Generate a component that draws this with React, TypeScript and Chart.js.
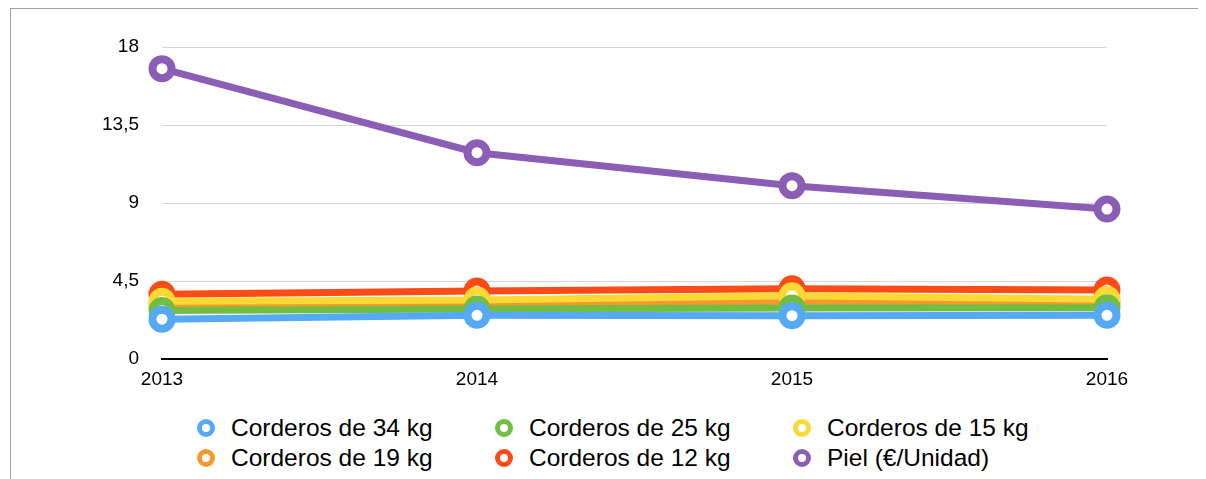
import React, { useEffect, useRef } from "react";
import { Chart, registerables } from "chart.js";

Chart.register(...registerables);

const years = ["2013", "2014", "2015", "2016"];
const corderos34 = [2.3, 2.52, 2.5, 2.52];
const corderos25 = [2.8, 2.88, 2.94, 2.96];
const corderos15 = [3.33, 3.4, 3.65, 3.45];
const corderos19 = [3.1, 3.12, 3.33, 3.2];
const corderos12 = [3.74, 3.92, 4.05, 3.98];
const piel = [16.75, 11.9, 10.0, 8.65];

const seriesNames = [
  "Corderos de 34 kg",
  "Corderos de 25 kg",
  "Corderos de 15 kg",
  "Corderos de 19 kg",
  "Corderos de 12 kg",
  "Piel (€/Unidad)",
];
const seriesValues = [corderos34, corderos25, corderos15, corderos19, corderos12, piel];
const seriesColors = ["#56aaf5", "#72bd44", "#fbd935", "#f29a2e", "#fb4b16", "#8c5db5"];

const yMin = 0;
const yMax = 18;
const yStep = 4.5;

const FONT = '"Liberation Sans", Arial, Helvetica, sans-serif';

export default function App() {
  const canvasRef = useRef<HTMLCanvasElement | null>(null);

  useEffect(() => {
    if (!canvasRef.current) return;
    const chart = new Chart(canvasRef.current, {
      type: "line",
      data: {
        labels: years,
        datasets: seriesNames.map((name, i) => ({
          label: name,
          data: seriesValues[i],
          borderColor: seriesColors[i],
          backgroundColor: "#ffffff",
          pointBackgroundColor: "#ffffff",
          pointBorderColor: seriesColors[i],
          borderWidth: 7,
          pointRadius: 9.5,
          pointBorderWidth: 8,
          tension: 0,
          fill: false,
          clip: false as any,
        })),
      },
      options: {
        responsive: false,
        animation: false,
        events: [],
        devicePixelRatio: 1,
        layout: { padding: { left: 0, right: 89, top: 38, bottom: 0 } },
        plugins: {
          legend: { display: false },
          tooltip: { enabled: false },
          title: { display: false },
        },
        scales: {
          x: {
            type: "category",
            offset: false,
            grid: { display: false, drawTicks: false },
            border: { display: true, color: "#000000", width: 2 },
            ticks: {
              color: "#000000",
              font: { family: FONT, size: 19 },
              padding: 9,
              maxRotation: 0,
              autoSkip: false,
            },
            afterFit: (scale: any) => {
              scale.height = 40;
            },
          },
          y: {
            min: yMin,
            max: yMax,
            grid: { color: "#d6d6d6", lineWidth: 1, drawTicks: false },
            border: { display: false },
            ticks: {
              stepSize: yStep,
              color: "#000000",
              font: { family: FONT, size: 19 },
              padding: 23,
              callback: (v: any) => String(v).replace(".", ","),
            },
            afterFit: (scale: any) => {
              scale.width = 151;
            },
          },
        },
      },
    });
    return () => chart.destroy();
  }, []);

  return (
    <div
      style={{
        position: "relative",
        marginLeft: 2,
        width: 1196,
        height: 471,
        boxSizing: "border-box",
        borderTop: "1px solid #a0a0a0",
        borderLeft: "1px solid #a0a0a0",
        overflow: "hidden",
        background: "#ffffff",
      }}
    >
      <canvas
        ref={canvasRef}
        width={1185}
        height={390}
        style={{ position: "absolute", left: 0, top: 0, width: 1185, height: 390 }}
      />
      <div
        style={{
          position: "absolute",
          left: 186,
          top: 404,
          display: "grid",
          gridTemplateColumns: "298px 298px 298px",
          gridAutoRows: "30px",
          fontFamily: FONT,
          fontSize: 24.5,
          color: "#000000",
        }}
      >
        {seriesNames.map((name, i) => (
          <div
            key={name}
            style={{ display: "flex", alignItems: "center", height: 30, whiteSpace: "nowrap" }}
          >
            <div
              style={{
                width: 8,
                height: 8,
                borderRadius: "50%",
                border: `5px solid ${seriesColors[i]}`,
                background: "#ffffff",
                flex: "none",
              }}
            />
            <span style={{ marginLeft: 16, lineHeight: "30px" }}>{name}</span>
          </div>
        ))}
      </div>
    </div>
  );
}
